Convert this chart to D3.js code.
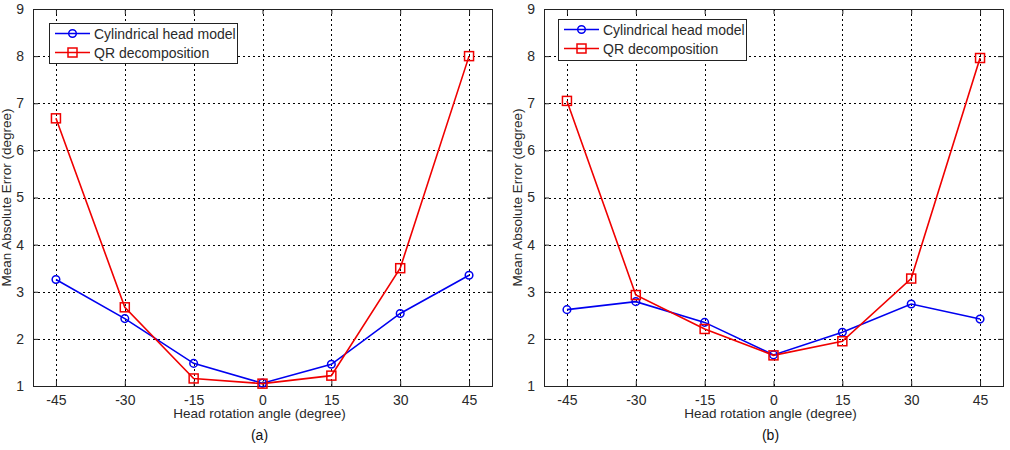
<!DOCTYPE html>
<html>
<head>
<meta charset="utf-8">
<script src="https://cdn.jsdelivr.net/npm/d3@7"></script>
<style>
  html, body { margin: 0; padding: 0; background: #fff; }
  svg { display: block; }
  text { font-family: "Liberation Sans", Arial, sans-serif; }
</style>
</head>
<body>
<svg id="chart" width="1010" height="450"></svg>
<script>
const angles = [-45, -30, -15, 0, 15, 30, 45];
const xTicks = [-45, -30, -15, 0, 15, 30, 45];
const yTicks = [1, 2, 3, 4, 5, 6, 7, 8, 9];
const seriesNames = ["Cylindrical head model", "QR decomposition"];
const panelLabels = ["(a)", "(b)"];
// Panel (a)
const chmA = [3.26, 2.43, 1.48, 1.06, 1.46, 2.54, 3.35];
const qrA  = [6.68, 2.67, 1.16, 1.05, 1.22, 3.50, 8.00];
// Panel (b)
const chmB = [2.62, 2.79, 2.35, 1.66, 2.14, 2.74, 2.42];
const qrB  = [7.05, 2.93, 2.21, 1.65, 1.95, 3.28, 7.96];

const svg = d3.select("#chart");
const blue = "#0000f0", red = "#f00000";
const fmt = d => String(d);

const panels = [
  { left: 33, right: 492, top: 9, bottom: 386, data: [chmA, qrA], label: panelLabels[0],
    legend: { x: 49, y: 23, w: 188, h: 40 } },
  { left: 544, right: 1003, top: 9, bottom: 386, data: [chmB, qrB], label: panelLabels[1],
    legend: { x: 558, y: 19, w: 188, h: 41 } }
];

panels.forEach(p => {
  const g = svg.append("g");
  const x = d3.scaleLinear().domain([-50, 50]).range([p.left, p.right]);
  const y = d3.scaleLinear().domain([1, 9]).range([p.bottom, p.top]);

  g.append("rect").attr("x", p.left).attr("y", p.top)
    .attr("width", p.right - p.left).attr("height", p.bottom - p.top).attr("fill", "#fff");

  // grid
  g.selectAll(".vg").data(xTicks).enter().append("line")
    .attr("x1", d => Math.round(x(d)) + 0.5).attr("x2", d => Math.round(x(d)) + 0.5)
    .attr("y1", p.top).attr("y2", p.bottom)
    .attr("stroke", "#000").attr("stroke-width", 1).attr("stroke-dasharray", "2,3");
  g.selectAll(".hg").data(yTicks.filter(d => d > 1 && d < 9)).enter().append("line")
    .attr("y1", d => Math.round(y(d)) + 0.5).attr("y2", d => Math.round(y(d)) + 0.5)
    .attr("x1", p.left).attr("x2", p.right)
    .attr("stroke", "#000").attr("stroke-width", 1).attr("stroke-dasharray", "2,3");

  // axes
  const xAxis = d3.axisBottom(x).tickValues(xTicks).tickSize(-5).tickPadding(9).tickFormat(fmt);
  const yAxis = d3.axisLeft(y).tickValues(yTicks).tickSize(-5).tickPadding(9).tickFormat(fmt);
  const xa = g.append("g").attr("transform", `translate(0,${p.bottom})`).call(xAxis);
  const ya = g.append("g").attr("transform", `translate(${p.left},0)`).call(yAxis);
  const xTop = g.append("g").attr("transform", `translate(0,${p.top})`).call(d3.axisTop(x).tickValues(xTicks).tickSize(-5).tickFormat(""));
  const yRight = g.append("g").attr("transform", `translate(${p.right},0)`).call(d3.axisRight(y).tickValues(yTicks).tickSize(-5).tickFormat(""));
  [xa, ya, xTop, yRight].forEach(a => {
    a.select(".domain").remove();
    a.selectAll("line").attr("stroke", "#222");
    a.selectAll("text").attr("fill", "#2a2a2a").style("font-size", "14px")
      .style("font-family", '"Liberation Sans", Arial, sans-serif');
  });

  // frame
  g.append("rect").attr("x", p.left + 0.5).attr("y", p.top + 0.5)
    .attr("width", p.right - p.left).attr("height", p.bottom - p.top)
    .attr("fill", "none").attr("stroke", "#222").attr("stroke-width", 1);

  // titles
  const cx = (p.left + p.right) / 2;
  g.append("text").attr("x", cx - 3).attr("y", 418).attr("text-anchor", "middle")
    .style("font-size", "13.5px").attr("fill", "#2a2a2a").text("Head rotation angle (degree)");
  g.append("text").attr("x", cx - 3).attr("y", 440).attr("text-anchor", "middle")
    .style("font-size", "14px").attr("fill", "#111").text(p.label);
  g.append("text")
    .attr("transform", `translate(${p.left - 22},${(p.top + p.bottom) / 2}) rotate(-90)`)
    .attr("text-anchor", "middle").style("font-size", "13.5px").attr("fill", "#2a2a2a")
    .text("Mean Absolute Error (degree)");

  // series
  const line = d3.line().x((d, i) => x(angles[i])).y(d => y(d));
  const colors = [blue, red];
  p.data.forEach((vals, si) => {
    g.append("path").datum(vals).attr("d", line)
      .attr("fill", "none").attr("stroke", colors[si]).attr("stroke-width", 1.6);
  });
  g.selectAll(".mc").data(p.data[0]).enter().append("circle")
    .attr("cx", (d, i) => x(angles[i])).attr("cy", d => y(d)).attr("r", 3.8)
    .attr("fill", "none").attr("stroke", blue).attr("stroke-width", 1.5);
  g.selectAll(".ms").data(p.data[1]).enter().append("rect")
    .attr("x", (d, i) => x(angles[i]) - 4.5).attr("y", d => y(d) - 4.5)
    .attr("width", 9).attr("height", 9)
    .attr("fill", "none").attr("stroke", red).attr("stroke-width", 1.5);

  // legend
  const L = p.legend;
  const lg = g.append("g");
  lg.append("rect").attr("x", L.x + 0.5).attr("y", L.y + 0.5).attr("width", L.w).attr("height", L.h)
    .attr("fill", "#fff").attr("stroke", "#222").attr("stroke-width", 1);
  seriesNames.forEach((name, si) => {
    const ly = L.y + 10.5 + si * 19;
    const x1 = L.x + 6, x2 = L.x + 41, mx = (x1 + x2) / 2;
    lg.append("line").attr("x1", x1).attr("x2", x2).attr("y1", ly).attr("y2", ly)
      .attr("stroke", colors[si]).attr("stroke-width", 1.6);
    if (si === 0) {
      lg.append("circle").attr("cx", mx).attr("cy", ly).attr("r", 3.8)
        .attr("fill", "none").attr("stroke", blue).attr("stroke-width", 1.5);
    } else {
      lg.append("rect").attr("x", mx - 4.5).attr("y", ly - 4.5).attr("width", 9).attr("height", 9)
        .attr("fill", "none").attr("stroke", red).attr("stroke-width", 1.5);
    }
    lg.append("text").attr("x", L.x + 45).attr("y", ly + 5)
      .style("font-size", "14px").attr("fill", "#2a2a2a").text(name);
  });
});
</script>
</body>
</html>
